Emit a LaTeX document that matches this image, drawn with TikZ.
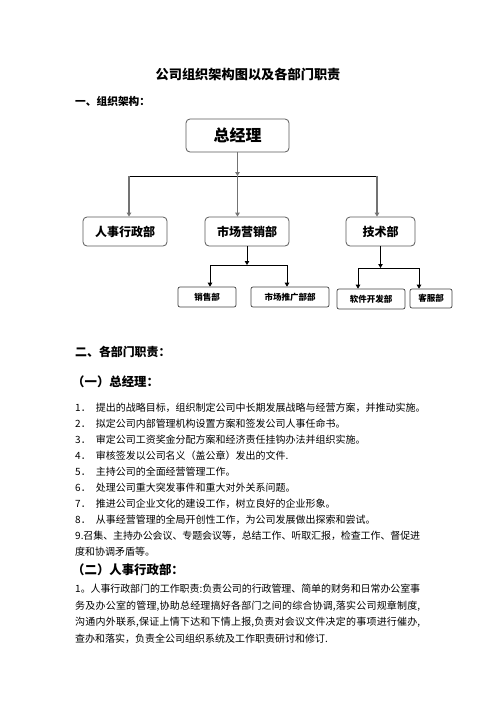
\documentclass[tikz,border=0pt]{standalone}
\usepackage{fontspec}
\setmainfont{Noto Sans CJK SC}
\usetikzlibrary{arrows.meta}
\XeTeXlinebreaklocale "zh"
\XeTeXlinebreakskip=0pt plus 2pt minus 0.5pt
\tikzset{
  box/.style={draw=black!65, line width=0.8pt, rounded corners=4pt, inner sep=0pt, font=\bfseries},
  subbox/.style={draw=black!75, line width=0.7pt, rounded corners=2pt, inner sep=0pt, font=\fontsize{8.5}{9}\selectfont\bfseries},
  vline/.style={draw=black!55, line width=1.4pt},
  hline/.style={draw=black, line width=0.8pt},
  sline/.style={draw=black, line width=0.8pt},
  tip/.style={-{Triangle[length=4pt,width=4.5pt]}},
  txt/.style={anchor=base west, inner sep=0pt, font=\fontsize{10}{12}\selectfont},
  jline/.style={anchor=base west, inner sep=0pt, text width=345pt, align=justify, font=\fontsize{10}{12}\selectfont},
  head/.style={anchor=base west, inner sep=0pt}
}
\newcommand\jtext[1]{\parfillskip=0pt\relax #1\par}
\begin{document}
\begin{tikzpicture}[x=1pt,y=-1pt]
\useasboundingbox (0,0) rectangle (496,702);
% headings
\node[anchor=base, inner sep=0pt, font=\fontsize{13.2}{15}\selectfont\bfseries] (title) at (248,79) {公司组织架构图以及各部门职责};
\node[head, font=\fontsize{10.7}{12}\selectfont\bfseries] (h1) at (75,105) {一、组织架构：};
% org chart boxes
\node[box, minimum width=103pt, minimum height=33pt, font=\fontsize{16}{18}\selectfont\bfseries] (gm) at (237.5,135.5) {总经理};
\node[box, minimum width=84pt, minimum height=29pt, font=\fontsize{12}{14}\selectfont\bfseries] (hr) at (125,231.5) {人事行政部};
\node[box, minimum width=84pt, minimum height=29pt, font=\fontsize{12}{14}\selectfont\bfseries] (mk) at (247,231.5) {市场营销部};
\node[box, minimum width=69pt, minimum height=29pt, font=\fontsize{12}{14}\selectfont\bfseries] (te) at (380.5,231.5) {技术部};
\node[subbox, minimum width=58pt, minimum height=20pt] (sales) at (207,297) {销售部};
\node[subbox, minimum width=78pt, minimum height=20pt] (promo) at (290,297) {市场推广部部};
\node[subbox, minimum width=68pt, minimum height=20pt] (soft) at (371,299) {软件开发部};
\node[subbox, minimum width=42pt, minimum height=19pt] (cs) at (431,298.5) {客服部};
% connectors
\coordinate (busM) at (237.5,176);
\coordinate (busL) at (129,176);
\coordinate (busR) at (377,176);
\draw[vline, tip] (gm.south) -- (busM);
\draw[hline] (busL) -- (busR);
\draw[vline, tip] (busL) -- (busL |- hr.north);
\draw[vline, tip] (busM) -- (busM |- mk.north);
\draw[vline, tip] (busR) -- (busR |- te.north);
\coordinate (mkbus) at (247,265);
\coordinate (sL) at (210,265);
\coordinate (sR) at (287,265);
\draw[sline, tip] (mk.south) -- (mkbus);
\draw[sline] (sL) -- (sR);
\draw[sline, tip] (sL) -- (sL |- sales.north);
\draw[sline, tip] (sR) -- (sR |- promo.north);
\coordinate (tebus) at (380.5,268);
\coordinate (tL) at (358,268);
\coordinate (tR) at (419,268);
\draw[sline, tip] (te.south) -- (tebus);
\draw[sline] (tL) -- (tR);
\draw[sline, tip] (tL) -- (tL |- soft.north);
\draw[sline, tip] (tR) -- (tR |- cs.north);
% section 2
\node[head, font=\fontsize{11.9}{13}\selectfont\bfseries] (h2) at (75,356.5) {二、各部门职责：};
\node[head, font=\fontsize{12.4}{14}\selectfont\bfseries] (h21) at (72,386.7) {（一）总经理：};
\node[txt] (i1) at (75,411.8) {1．\hspace{5pt}提出的战略目标，组织制定公司中长期发展战略与经营方案，并推动实施。};
\node[txt] (i2) at (75,427.8) {2．\hspace{5pt}拟定公司内部管理机构设置方案和签发公司人事任命书。};
\node[txt] (i3) at (75,443.8) {3．\hspace{5pt}审定公司工资奖金分配方案和经济责任挂钩办法并组织实施。};
\node[txt] (i4) at (75,459.8) {4．\hspace{5pt}审核签发以公司名义（盖公章）发出的文件.};
\node[txt] (i5) at (75,475.8) {5．\hspace{5pt}主持公司的全面经营管理工作。};
\node[txt] (i6) at (75,491.8) {6．\hspace{5pt}处理公司重大突发事件和重大对外关系问题。};
\node[txt] (i7) at (75,507.8) {7．\hspace{5pt}推进公司企业文化的建设工作，树立良好的企业形象。};
\node[txt] (i8) at (75,523.8) {8．\hspace{5pt}从事经营管理的全局开创性工作，为公司发展做出探索和尝试。};
\node[jline] (i9) at (75,539.8) {\jtext{9.召集、主持办公会议、专题会议等，总结工作、听取汇报，检查工作、督促进}};
\node[txt] (i9b) at (75,555.8) {度和协调矛盾等。};
\node[head, font=\fontsize{12.4}{14}\selectfont\bfseries] (h22) at (72,574.7) {（二）人事行政部：};
\node[jline] (p1) at (75,592.8) {\jtext{1。人事行政部门的工作职责:负责公司的行政管理、简单的财务和日常办公室事}};
\node[jline] (p2) at (75,609.8) {\jtext{务及办公室的管理,协助总经理搞好各部门之间的综合协调,落实公司规章制度,}};
\node[jline] (p3) at (75,625.8) {\jtext{沟通内外联系,保证上情下达和下情上报,负责对会议文件决定的事项进行催办,}};
\node[txt] (p4) at (75,642.8) {查办和落实，负责全公司组织系统及工作职责研讨和修订.};
\end{tikzpicture}
\end{document}
